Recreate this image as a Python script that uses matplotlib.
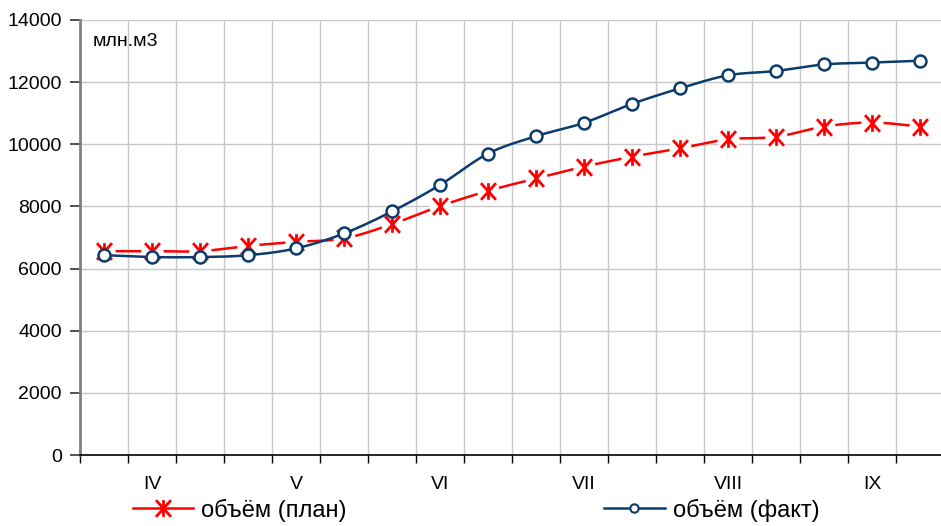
import numpy as np
import matplotlib
matplotlib.use("Agg")
import matplotlib.pyplot as plt
from matplotlib.lines import Line2D
from matplotlib.path import Path

plt.rcParams['font.family'] = ['Liberation Sans', 'DejaVu Sans']

# ---- data ----
categories = ["", "IV", "", "", "V", "", "", "VI", "", "", "VII", "", "", "VIII", "", "", "IX", ""]
plan = [6560, 6560, 6560, 6730, 6860, 6970, 7430, 8010, 8500, 8900, 9280, 9600,
        9870, 10160, 10240, 10570, 10700, 10570]
fact = [6430, 6370, 6370, 6430, 6650, 7130, 7840, 8690, 9700, 10260, 10690, 11300,
        11800, 12220, 12360, 12570, 12630, 12690]
yticks = [0, 2000, 4000, 6000, 8000, 10000, 12000, 14000]
unit_label = "млн.м3"
plan_label = "объём (план)"
fact_label = "объём (факт)"

RED = "#ff0000"
NAVY = "#0b3c6e"

# star marker: X plus vertical bar
STAR = Path([(0, -1), (0, 1), (-0.9, -1), (0.9, 1), (-0.9, 1), (0.9, -1)],
            [Path.MOVETO, Path.LINETO, Path.MOVETO, Path.LINETO, Path.MOVETO, Path.LINETO])


def smooth(x, y, n=20):
    """Bezier smoothing through the points (spreadsheet-style smoothed line)."""
    x = np.asarray(x, float)
    y = np.asarray(y, float)
    P = np.column_stack([x, y])
    P = np.vstack([P[0], P, P[-1]])
    out = []
    t = np.linspace(0, 1, n, endpoint=False)[:, None]
    for i in range(1, len(P) - 2):
        p0, p1, p2, p3 = P[i - 1], P[i], P[i + 1], P[i + 2]
        c1 = p1 + (p2 - p0) / 6.0
        c2 = p2 - (p3 - p1) / 6.0
        seg = ((1 - t) ** 3) * p1 + 3 * ((1 - t) ** 2) * t * c1 + 3 * (1 - t) * t ** 2 * c2 + t ** 3 * p2
        out.append(seg)
    out.append(P[-2][None, :])
    out = np.vstack(out)
    return out[:, 0], out[:, 1]


fig = plt.figure(figsize=(9.41, 5.26), dpi=100)
ax = fig.add_axes([80 / 941, 1 - 455 / 526, 864 / 941, 435 / 526])

x = np.arange(len(categories))

# plan (red)
sx, sy = smooth(x, plan)
ax.plot(sx, sy, color=RED, lw=1.8, zorder=3, solid_capstyle='butt')
ax.plot(x, plan, ls='none', marker='o', ms=16, mfc='white', mec='none', zorder=4)
ax.plot(x, plan, ls='none', marker=STAR, ms=12, mec=RED, mew=2.0, zorder=5)

# fact (navy)
fx, fy = smooth(x, fact)
ax.plot(fx, fy, color=NAVY, lw=1.8, zorder=6)
ax.plot(x, fact, ls='none', marker='o', ms=8.6, mfc='white', mec=NAVY, mew=1.8, zorder=7)

ax.set_xlim(-0.5, len(categories) - 0.5)
ax.set_ylim(0, 14000)
ax.set_yticks(yticks)
ax.set_yticklabels([str(v) for v in yticks], fontsize=14)

ax.set_xticks(x)
ax.set_xticklabels(categories, fontsize=14)
ax.tick_params(axis='x', which='major', length=0, pad=15)
ax.set_xticks(np.arange(-0.5, len(categories), 1.0), minor=True)
ax.tick_params(axis='x', which='minor', length=6, width=1.0, color='black', direction='out')
ax.tick_params(axis='y', length=7, width=1.2, color='#333333', pad=6, direction='out')

ax.grid(False)
for xv in np.arange(0.5, len(categories), 1.0):
    ax.axvline(xv, color='#c8c8c8', lw=1.0, zorder=1)
for yv in yticks[1:]:
    ax.axhline(yv, color='#c8c8c8', lw=1.0, zorder=1)

for s in ['top', 'right']:
    ax.spines[s].set_visible(False)
ax.spines['left'].set_color('#808080')
ax.spines['left'].set_linewidth(2.0)
ax.spines['bottom'].set_color('black')
ax.spines['bottom'].set_linewidth(1.2)
ax.spines['bottom'].set_zorder(8)

fig.text(93 / 941, 1 - 42 / 526, unit_label, fontsize=14, va='center', ha='left')

h1 = Line2D([], [], color=RED, lw=1.8, marker=STAR, ms=12, mec=RED, mew=2.0)
h2 = Line2D([], [], color=NAVY, lw=1.8, marker='o', ms=6, mfc='white', mec=NAVY, mew=1.5)
fig.legend([h1, h2], [plan_label, fact_label], loc='center left',
           bbox_to_anchor=(133 / 941, 1 - 510 / 526), ncol=2, frameon=False,
           fontsize=17, handlelength=2.55, handletextpad=0.35, columnspacing=10.9,
           borderaxespad=0, borderpad=0)

fig.savefig("out.png", dpi=100)
